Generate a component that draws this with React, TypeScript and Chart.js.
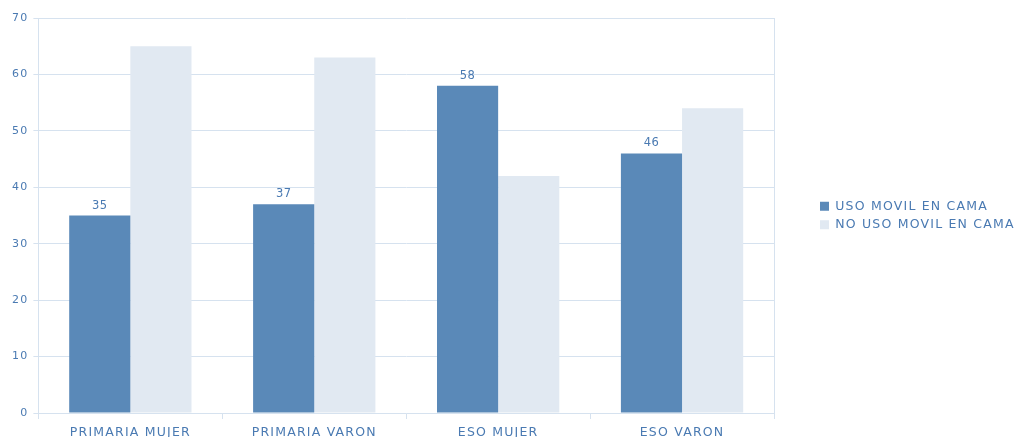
import React, { useEffect, useRef } from "react";
import { Chart, registerables } from "chart.js";

Chart.register(...registerables);

const categories = ["PRIMARIA MUJER", "PRIMARIA VARON", "ESO MUJER", "ESO VARON"];
const usoMovil = [35, 37, 58, 46];
const noUsoMovil = [65, 63, 42, 54];
const seriesNames = ["USO MOVIL EN CAMA", "NO USO MOVIL EN CAMA"];
const yTicks = { min: 0, max: 70, step: 10 };

const TEXT = "#4a7ab2";
const GRID = "#d6e2ef";
const FONT = "'DejaVu Sans', Verdana, sans-serif";
const SPACING = "1.2px";
const LEGEND_WIDTH = 201;

// Slightly spaced lettering for the labels, and a legend box wide enough for it,
// centred on the plot area rather than on the whole canvas.
const letterSpacing = {
  id: "letterSpacing",
  beforeLayout(chart: any) {
    (chart.ctx as any).letterSpacing = SPACING;
    const lg = chart.legend;
    if (lg && !lg.__widened) {
      const fit = lg.fit.bind(lg);
      lg.fit = function () {
        fit();
        this.width = Math.max(this.width, LEGEND_WIDTH);
      };
      lg.__widened = true;
    }
  },
  afterLayout(chart: any) {
    const lg = chart.legend;
    if (lg) {
      lg.top = chart.chartArea.top;
      lg.bottom = chart.chartArea.bottom;
      lg.height = lg.bottom - lg.top;
    }
  },
  beforeDraw(chart: any) {
    (chart.ctx as any).letterSpacing = SPACING;
  },
};

// Writes the value above each bar of the first series.
const valueLabels = {
  id: "valueLabels",
  afterDatasetsDraw(chart: any) {
    const ctx = chart.ctx;
    const meta = chart.getDatasetMeta(0);
    const data = chart.data.datasets[0].data as number[];
    ctx.save();
    (ctx as any).letterSpacing = "0.4px";
    ctx.font = `11.5px ${FONT}`;
    ctx.fillStyle = TEXT;
    ctx.textAlign = "center";
    ctx.textBaseline = "alphabetic";
    meta.data.forEach((bar: any, i: number) => {
      ctx.fillText(String(data[i]), bar.x, bar.y - 7);
    });
    ctx.restore();
  },
};

export default function App() {
  const ref = useRef<HTMLCanvasElement>(null);

  useEffect(() => {
    if (!ref.current) return;
    const chart = new Chart(ref.current, {
      type: "bar",
      data: {
        labels: categories,
        datasets: [
          {
            label: seriesNames[0],
            data: usoMovil,
            backgroundColor: "#5a89b8",
            categoryPercentage: 0.665,
            barPercentage: 1,
          },
          {
            label: seriesNames[1],
            data: noUsoMovil,
            backgroundColor: "#e1e9f2",
            categoryPercentage: 0.665,
            barPercentage: 1,
          },
        ],
      },
      options: {
        animation: false,
        responsive: true,
        maintainAspectRatio: false,
        layout: { padding: { left: 7, top: 18, right: 0, bottom: -9 } },
        plugins: {
          legend: {
            position: "right",
            labels: {
              boxWidth: 9,
              boxHeight: 9,
              padding: 6,
              color: TEXT,
              font: { family: FONT, size: 12.5 },
            },
          },
          tooltip: { enabled: false },
        },
        scales: {
          x: {
            grid: {
              drawOnChartArea: false,
              drawTicks: true,
              tickLength: 6,
              color: GRID,
            },
            border: { color: GRID },
            ticks: { color: TEXT, font: { family: FONT, size: 12.5 }, padding: 6 },
          },
          y: {
            min: yTicks.min,
            max: yTicks.max,
            ticks: {
              stepSize: yTicks.step,
              color: TEXT,
              font: { family: FONT, size: 11 },
              padding: 5,
            },
            grid: { color: GRID, tickLength: 5 },
            border: { color: GRID },
          },
          y2: {
            position: "right",
            min: yTicks.min,
            max: yTicks.max,
            ticks: { display: false },
            grid: { display: false },
            border: { display: true, color: GRID },
            afterFit(scale: any) {
              scale.width = 40;
            },
          },
        },
      },
      plugins: [letterSpacing, valueLabels],
    });
    return () => chart.destroy();
  }, []);

  return (
    <div style={{ position: "fixed", left: 0, top: 0, width: 1015, height: 437, background: "#fff" }}>
      <canvas ref={ref} />
    </div>
  );
}
